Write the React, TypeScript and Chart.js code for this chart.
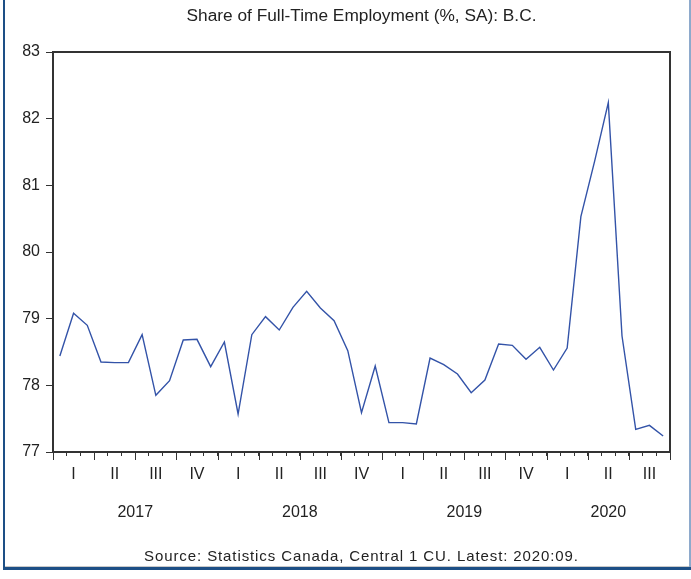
import { useEffect, useRef } from 'react';
import { Chart, registerables } from 'chart.js';

Chart.register(...registerables);

const FONT = '"Liberation Sans", Arial, Helvetica, sans-serif';

const chartTitle = 'Share of Full-Time Employment (%, SA): B.C.';
const sourceNote = 'Source: Statistics Canada, Central 1 CU. Latest: 2020:09.';

const years = ['2017', '2018', '2019', '2020'];
const quarterLabels = ['I', 'II', 'III', 'IV'];

const months = [
  '2017:01', '2017:02', '2017:03', '2017:04', '2017:05', '2017:06', '2017:07', '2017:08', '2017:09', '2017:10', '2017:11', '2017:12',
  '2018:01', '2018:02', '2018:03', '2018:04', '2018:05', '2018:06', '2018:07', '2018:08', '2018:09', '2018:10', '2018:11', '2018:12',
  '2019:01', '2019:02', '2019:03', '2019:04', '2019:05', '2019:06', '2019:07', '2019:08', '2019:09', '2019:10', '2019:11', '2019:12',
  '2020:01', '2020:02', '2020:03', '2020:04', '2020:05', '2020:06', '2020:07', '2020:08', '2020:09',
];

const shareFullTime = [
  78.44, 79.08, 78.90, 78.35, 78.34, 78.34, 78.76, 77.85, 78.07, 78.68, 78.69, 78.28,
  78.65, 77.57, 78.76, 79.03, 78.83, 79.17, 79.41, 79.16, 78.97, 78.52, 77.59, 78.29,
  77.44, 77.44, 77.42, 78.41, 78.31, 78.17, 77.89, 78.08, 78.62, 78.60, 78.39, 78.57,
  78.23, 78.56, 80.53, 81.36, 82.24, 78.74, 77.34, 77.40, 77.24,
];

const yMin = 77;
const yMax = 83;
const yStep = 1;

const decorPlugin = {
  id: 'decor',
  afterDraw(chart: any) {
    const { ctx, chartArea, scales } = chart;
    const x = scales.x;
    ctx.save();

    // plot box (top + right)
    ctx.strokeStyle = '#333333';
    ctx.lineWidth = 2;
    ctx.beginPath();
    ctx.moveTo(chartArea.left, chartArea.top);
    ctx.lineTo(chartArea.right, chartArea.top);
    ctx.lineTo(chartArea.right, chartArea.bottom);
    ctx.stroke();

    // long quarter ticks
    ctx.lineWidth = 1;
    ctx.strokeStyle = '#333333';
    for (let i = 0; i <= months.length; i += 3) {
      const px = Math.round(x.getPixelForValue(i - 0.5)) + 0.5;
      ctx.beginPath();
      ctx.moveTo(px, chartArea.bottom);
      ctx.lineTo(px, chartArea.bottom + 8);
      ctx.stroke();
    }

    // year labels
    ctx.fillStyle = '#222222';
    ctx.font = `16px ${FONT}`;
    ctx.textAlign = 'center';
    ctx.textBaseline = 'alphabetic';
    years.forEach((yr, k) => {
      const first = k * 12;
      const last = Math.min(first + 11, months.length - 1);
      const cx = (x.getPixelForValue(first - 0.5) + x.getPixelForValue(last + 0.5)) / 2;
      ctx.fillText(yr, cx, 517);
    });

    // title
    const midX = (chartArea.left + chartArea.right) / 2;
    ctx.font = `17.3px ${FONT}`;
    ctx.fillText(chartTitle, midX, 21);

    // source
    ctx.font = `15px ${FONT}`;
    try {
      (ctx as any).letterSpacing = '0.9px';
    } catch (e) {
      /* ignore */
    }
    ctx.fillText(sourceNote, midX, 561);
    try {
      (ctx as any).letterSpacing = '0px';
    } catch (e) {
      /* ignore */
    }

    // outer frame
    ctx.fillStyle = '#c9c9c9';
    ctx.fillRect(3, 566, 687, 1);
    ctx.fillStyle = '#1d4f86';
    ctx.fillRect(3, 0, 2, 570);
    ctx.fillRect(3, 567, 688, 3);
    ctx.fillStyle = '#8eaacc';
    ctx.fillRect(689, 0, 2, 567);

    ctx.restore();
  },
};

export default function App() {
  const canvasRef = useRef<HTMLCanvasElement | null>(null);

  useEffect(() => {
    document.body.style.margin = '0';
    const canvas = canvasRef.current;
    if (!canvas) return;
    const chart = new Chart(canvas, {
      type: 'line',
      data: {
        labels: months,
        datasets: [
          {
            data: shareFullTime,
            borderColor: '#3353a8',
            borderWidth: 1.4,
            pointRadius: 0,
            tension: 0,
            fill: false,
          },
        ],
      },
      options: {
        animation: false,
        responsive: false,
        devicePixelRatio: 1,
        layout: { padding: { left: 0, right: 21, top: 52, bottom: 0 } },
        plugins: {
          legend: { display: false },
          title: { display: false },
          tooltip: { enabled: false },
        },
        scales: {
          x: {
            type: 'category',
            offset: true,
            afterFit: (scale: any) => {
              scale.height = 127;
            },
            border: { display: true, color: '#333333', width: 2 },
            grid: {
              offset: true,
              drawOnChartArea: false,
              drawTicks: true,
              tickLength: 4,
              color: '#333333',
              lineWidth: 1,
            },
            ticks: {
              autoSkip: false,
              maxRotation: 0,
              minRotation: 0,
              padding: 9,
              color: '#222222',
              font: { family: FONT, size: 16 },
              callback: (_v: any, idx: number) =>
                idx % 3 === 1 ? quarterLabels[Math.floor((idx % 12) / 3)] : '',
            },
          },
          y: {
            min: yMin,
            max: yMax,
            afterFit: (scale: any) => {
              scale.width = 53;
            },
            border: { display: true, color: '#333333', width: 2 },
            grid: {
              drawOnChartArea: false,
              drawTicks: true,
              tickLength: 7,
              color: '#333333',
              lineWidth: 1,
            },
            ticks: {
              stepSize: yStep,
              padding: 6,
              color: '#222222',
              font: { family: FONT, size: 16 },
            },
          },
        },
      },
      plugins: [decorPlugin],
    });
    return () => chart.destroy();
  }, []);

  return (
    <div style={{ width: 691, height: 579, background: '#ffffff' }}>
      <canvas ref={canvasRef} width={691} height={579} style={{ display: 'block' }} />
    </div>
  );
}
